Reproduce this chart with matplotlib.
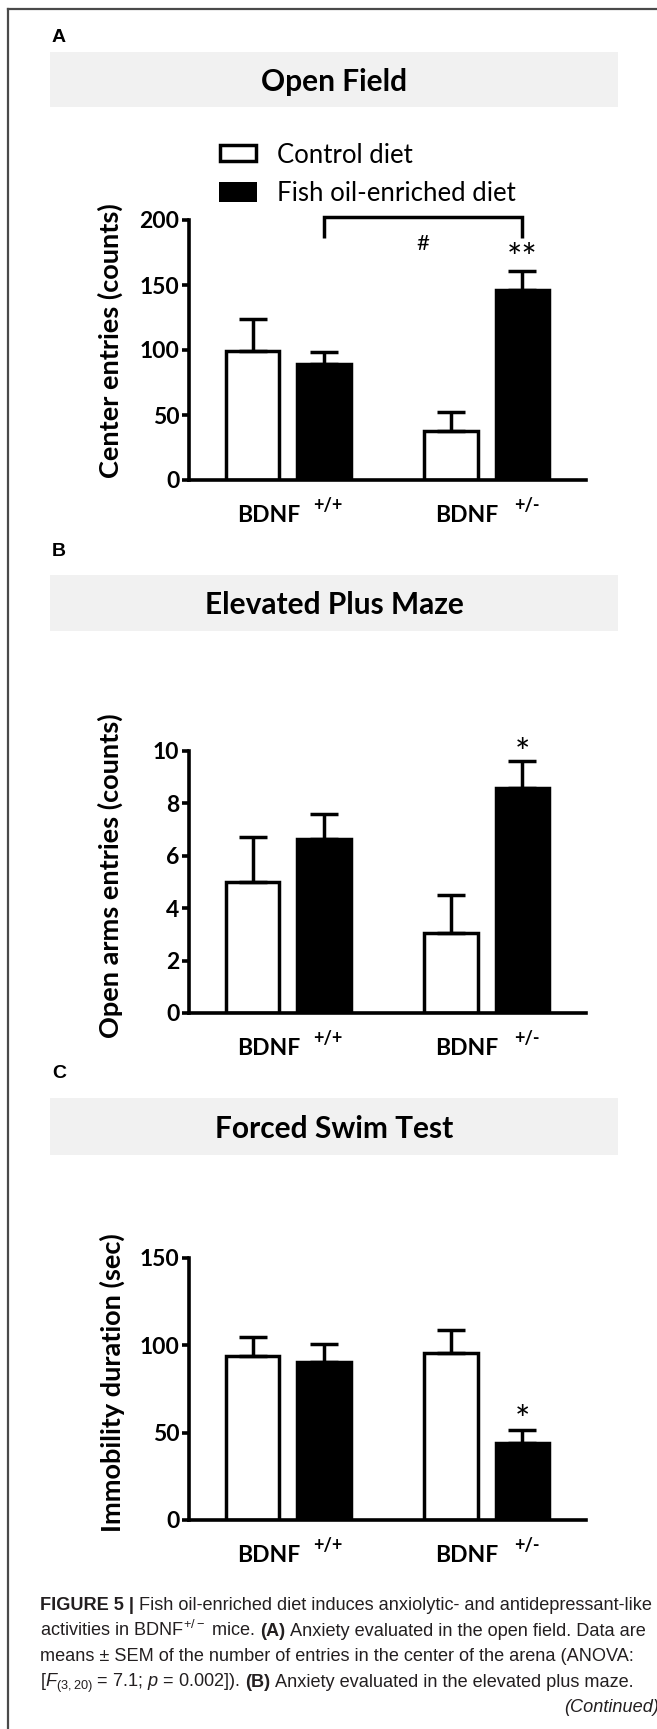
import matplotlib
matplotlib.use('Agg')
import matplotlib.pyplot as plt
import matplotlib.transforms as mtransforms
from matplotlib.patches import Rectangle
from matplotlib.lines import Line2D
import numpy as np

# ---------------- data ----------------
group_label = 'BDNF'
genotypes = ['+/+', '+/-']
series_names = ['Control diet', 'Fish oil-enriched diet']

of_control = [99.5, 37.5]
of_control_sem = [24.5, 14.7]
of_fish = [89.5, 146.5]
of_fish_sem = [9.2, 14.5]

epm_control = [5.0, 3.05]
epm_control_sem = [1.73, 1.45]
epm_fish = [6.65, 8.6]
epm_fish_sem = [0.95, 1.02]

fst_control = [93.7, 95.5]
fst_control_sem = [11.2, 13.0]
fst_fish = [90.5, 44.0]
fst_fish_sem = [10.2, 7.5]

titles = ['Open Field', 'Elevated Plus Maze', 'Forced Swim Test']
ylabels = ['Center entries (counts)', 'Open arms entries (counts)', 'Immobility duration (sec)']
yticks_list = [[0, 50, 100, 150, 200], [0, 2, 4, 6, 8, 10], [0, 50, 100, 150]]
panel_letters = ['A', 'B', 'C']
fish_stars = [['', '**'], ['', '*'], ['', '*']]

caption_runs = [
    [('FIGURE 5 |', 'bold'), ('Fish oil-enriched diet induces anxiolytic- and antidepressant-like', 'normal')],
    [(r'activities in BDNF$^{+/-}$ mice.', 'normal'), ('(A)', 'bold'),
     ('Anxiety evaluated in the open field. Data are', 'normal')],
    [('means \u00b1 SEM of the number of entries in the center of the arena (ANOVA:', 'normal')],
    [(r'[$F_{(3,20)}$ = 7.1; $p$ = 0.002]).', 'normal'), ('(B)', 'bold'),
     ('Anxiety evaluated in the elevated plus maze.', 'normal')],
]
continued = '(Continued)'

# ---------------- style ----------------
plt.rcParams['mathtext.fontset'] = 'custom'
plt.rcParams['mathtext.rm'] = 'Liberation Sans'
plt.rcParams['mathtext.it'] = 'Liberation Sans:italic'
plt.rcParams['mathtext.bf'] = 'Liberation Sans:bold'
plt.rcParams['mathtext.sf'] = 'Liberation Sans'

W, H = 657, 1729
fig = plt.figure(figsize=(W / 100, H / 100), dpi=100)
fig.patch.set_facecolor('white')
pix = mtransforms.Affine2D().scale(1 / W, -1 / H).translate(0, 1) + fig.transFigure

CHART_FONT = 'Lato'
CAP_FONT = 'Liberation Sans'

# frame
fig.add_artist(Line2D([8, 700], [9, 9], transform=pix, color='#4a4a4a', lw=1.6))
fig.add_artist(Line2D([8, 8], [9, 1760], transform=pix, color='#4a4a4a', lw=1.6))

layout = [
    dict(letter=42, box=(52, 107), ax=(220, 480), ylab=(110, 341)),
    dict(letter=556, box=(575, 631), ax=(751, 1013), ylab=(110, 876)),
    dict(letter=1078, box=(1098, 1155), ax=(1258, 1520), ylab=(112, 1383)),
]
AX_L, AX_R = 189, 586

data = [
    (of_control, of_control_sem, of_fish, of_fish_sem),
    (epm_control, epm_control_sem, epm_fish, epm_fish_sem),
    (fst_control, fst_control_sem, fst_fish, fst_fish_sem),
]
star_dy = [0.4, -3.0, -1.6]

x = np.arange(len(genotypes))
off = 0.18
bw = 0.27
LW = 2.5

for i in range(3):
    L = layout[i]
    ctrl, ctrl_sem, fish, fish_sem = data[i]
    # panel letter
    fig.text(52 / W, 1 - L['letter'] / H, panel_letters[i], fontsize=14, weight='bold',
             family=CAP_FONT, ha='left', va='baseline')
    # title box
    b0, b1 = L['box']
    fig.add_artist(Rectangle((50, b0), 568, b1 - b0, transform=pix,
                             facecolor='#f1f1f1', edgecolor='none'))
    fig.text(334 / W, 1 - ((b0 + b1) / 2 + 11) / H, titles[i], fontsize=21.5,
             weight='bold', family=CHART_FONT, ha='center', va='baseline')

    top, bot = L['ax']
    ax = fig.add_axes([AX_L / W, 1 - bot / H, (AX_R - AX_L) / W, (bot - top) / H])
    ax.set_facecolor('none')
    ax.bar(x - off, ctrl, bw, color='white', edgecolor='black', linewidth=LW, zorder=2)
    ax.bar(x + off, fish, bw, color='black', edgecolor='black', linewidth=LW, zorder=2)
    ax.errorbar(x - off, ctrl, yerr=[np.zeros(len(x)), ctrl_sem], fmt='none', ecolor='black',
                elinewidth=LW, capsize=10, capthick=LW, zorder=3)
    ax.errorbar(x + off, fish, yerr=[np.zeros(len(x)), fish_sem], fmt='none', ecolor='black',
                elinewidth=LW, capsize=10, capthick=LW, zorder=3)

    yt = yticks_list[i]
    ax.set_xlim(-0.5, 1.5)
    ax.set_ylim(0, yt[-1])
    ax.set_yticks(yt)
    ax.set_yticklabels([str(v) for v in yt])
    for s in ['top', 'right']:
        ax.spines[s].set_visible(False)
    for s in ['left', 'bottom']:
        ax.spines[s].set_linewidth(2.6)
        ax.spines[s].set_capstyle('projecting')
    ax.tick_params(axis='y', direction='out', length=5, width=2.6, pad=2, labelsize=16.5)
    for lab in ax.get_yticklabels():
        lab.set_fontweight('bold')
        lab.set_family(CHART_FONT)
    ax.set_xticks([])

    blend = mtransforms.blended_transform_factory(ax.transData, pix)
    for j, g in enumerate(genotypes):
        ax.text(x[j] - 0.1, bot + 42, group_label, transform=blend, ha='center', va='baseline',
                fontsize=16.5, weight='bold', family=CHART_FONT)
        ax.text(x[j] + 0.2, bot + 31, g, transform=blend, ha='center', va='baseline',
                fontsize=13, weight='bold', family=CHART_FONT)

    ax.set_ylabel(ylabels[i], fontsize=19.5, weight='bold', family=CHART_FONT,
                  ha='center', va='center')
    ax.yaxis.set_label_coords((L['ylab'][0] - AX_L) / (AX_R - AX_L),
                              (bot - L['ylab'][1]) / (bot - top))

    for j in range(len(x)):
        s = fish_stars[i][j]
        if s:
            ax.annotate(s, xy=(x[j] + off, fish[j] + fish_sem[j]), xytext=(0, star_dy[i]),
                        textcoords='offset points', ha='center', va='baseline',
                        fontsize=26, family=CHART_FONT, annotation_clip=False)

    if i == 0:
        xa, xb = x[0] + off, x[1] + off
        ax.plot([xa, xa, xb, xb], [186, 202, 202, 186], color='black', lw=LW,
                clip_on=False, solid_capstyle='butt', solid_joinstyle='miter')
        ax.text((xa + xb) / 2, 177, '#', ha='center', va='baseline', fontsize=16,
                family=CHART_FONT)

# legend (drawn in panel A area)
fig.add_artist(Rectangle((220.25, 144.5), 35.5, 16.5, transform=pix, facecolor='white',
                         edgecolor='black', lw=LW))
fig.add_artist(Rectangle((219, 182), 38, 20, transform=pix, facecolor='black',
                         edgecolor='none'))
fig.text(277 / W, 1 - 162.7 / H, series_names[0], fontsize=18.5, family=CHART_FONT,
         ha='left', va='baseline')
fig.text(277 / W, 1 - 201 / H, series_names[1], fontsize=18.5, family=CHART_FONT,
         ha='left', va='baseline')

# caption
renderer = fig.canvas.get_renderer()
CAP_COLOR = '#231f20'
cap_base = [1610, 1636, 1661, 1687]


def draw_caption(size):
    texts = []
    widths = []
    space = 0.278 * size * 100 / 72
    for line, yb in zip(caption_runs, cap_base):
        xp = 40
        for k, (s, w) in enumerate(line):
            if k > 0:
                xp += space
            t = fig.text(xp / W, 1 - yb / H, s, fontsize=size, weight=w, family=CAP_FONT,
                         color=CAP_COLOR, ha='left', va='baseline')
            bb = t.get_window_extent(renderer)
            xp = bb.x1
            texts.append(t)
        widths.append(xp - 40)
    return texts, widths


texts, widths = draw_caption(10)
for t in texts:
    t.remove()
cap_size = 10 * 616 / widths[0]
draw_caption(cap_size)
fig.text(659 / W, 1 - 1712 / H, continued, fontsize=cap_size, style='italic',
         family=CAP_FONT, color=CAP_COLOR, ha='right', va='baseline')

fig.savefig('out.png', dpi=100, facecolor='white')
